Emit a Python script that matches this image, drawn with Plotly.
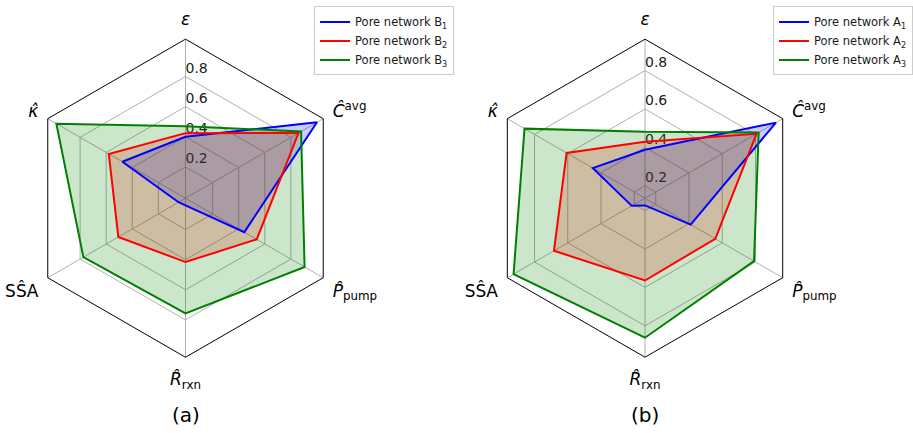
import plotly.graph_objects as go

# Axis categories (clockwise from the top)
axis_labels = [
    "<i>ε</i>",
    "<i>Ĉ</i><sup>avg</sup>",
    "<i>P̂</i><sub>pump</sub>",
    "<i>R̂</i><sub>rxn</sub>",
    "SŜA",
    "<i>κ̂</i>",
]
radial_ticks = [0.2, 0.4, 0.6, 0.8]
tick_text = ["0.2", "0.4", "0.6", "0.8"]

# Panel (a): pore networks B1-B3
names_a = ["Pore network B<sub>1</sub>", "Pore network B<sub>2</sub>", "Pore network B<sub>3</sub>"]
b1 = [0.400, 1.000, 0.443, 0.040, 0.045, 0.476]
b2 = [0.424, 0.858, 0.538, 0.416, 0.507, 0.580]
b3 = [0.470, 0.878, 0.905, 0.757, 0.775, 0.982]

# Panel (b): pore networks A1-A3
names_b = ["Pore network A<sub>1</sub>", "Pore network A<sub>2</sub>", "Pore network A<sub>3</sub>"]
a1 = [0.388, 0.923, 0.410, 0.173, 0.215, 0.449]
a2 = [0.430, 0.806, 0.558, 0.564, 0.683, 0.607]
a3 = [0.481, 0.819, 0.791, 0.862, 0.926, 0.860]

line_colors = ["#0000ff", "#ff0000", "#008000"]
fill_colors = ["rgba(0,0,255,0.2)", "rgba(255,0,0,0.2)", "rgba(0,128,0,0.2)"]

FONT = "DejaVu Sans"


def auto_range(series):
    # data limits plus a 5% margin on each side
    lo = min(min(s) for s in series)
    hi = max(max(s) for s in series)
    pad = 0.05 * (hi - lo)
    return [lo - pad, hi + pad]


fig = go.Figure()


def add_panel(series, names, subplot, legend):
    theta = axis_labels + axis_labels[:1]
    # radial tick labels along the top spoke
    fig.add_trace(go.Scatterpolar(
        r=radial_ticks, theta=[axis_labels[0]] * len(radial_ticks),
        mode="text", text=tick_text, textposition="top right",
        textfont=dict(family=FONT, size=14, color="#1a1a1a"),
        showlegend=False, hoverinfo="skip", subplot=subplot,
    ))
    # translucent areas first
    for vals, fc in zip(series, fill_colors):
        fig.add_trace(go.Scatterpolar(
            r=vals + vals[:1], theta=theta,
            mode="lines", fill="toself", fillcolor=fc,
            line=dict(width=0, color=fc),
            subplot=subplot, showlegend=False, hoverinfo="skip",
        ))
    # outlines on top, these carry the legend entries
    for vals, name, lc in zip(series, names, line_colors):
        fig.add_trace(go.Scatterpolar(
            r=vals + vals[:1], theta=theta,
            mode="lines", line=dict(color=lc, width=2),
            name=name, subplot=subplot, legend=legend,
        ))


add_panel([b1, b2, b3], names_a, "polar", "legend")
add_panel([a1, a2, a3], names_b, "polar2", "legend2")


def polar_layout(xdom, rng):
    return dict(
        domain=dict(x=xdom, y=[0.1746, 0.9099]),
        gridshape="linear",
        bgcolor="white",
        angularaxis=dict(
            type="category", direction="clockwise", rotation=90,
            showline=True, linecolor="black", linewidth=1,
            gridcolor="#b0b0b0", gridwidth=0.8,
            ticks="outside", ticklen=7, tickcolor="rgba(0,0,0,0)",
            tickfont=dict(family=FONT, size=17, color="black"),
        ),
        radialaxis=dict(
            range=rng, tickvals=radial_ticks, showticklabels=False,
            showline=False, ticks="", gridcolor="#b0b0b0", gridwidth=0.8,
        ),
    )


legend_style = dict(
    font=dict(family=FONT, size=11.5, color="#1a1a1a"),
    bordercolor="#cccccc", borderwidth=1, bgcolor="rgba(255,255,255,0.8)",
    xanchor="left", yanchor="top", y=0.985, tracegroupgap=0,
)

fig.update_layout(
    width=913, height=433,
    margin=dict(l=0, r=0, t=0, b=0),
    paper_bgcolor="white",
    font=dict(family=FONT),
    polar=polar_layout([0.0290, 0.3778], auto_range([b1, b2, b3])),
    polar2=polar_layout([0.5329, 0.8816], auto_range([a1, a2, a3])),
    legend=dict(x=0.344, **legend_style),
    legend2=dict(x=0.848, **legend_style),
    annotations=[
        dict(text="(a)", x=0.2034, y=0.042, xref="paper", yref="paper",
             xanchor="center", yanchor="middle", showarrow=False,
             font=dict(family=FONT, size=20, color="black")),
        dict(text="(b)", x=0.7073, y=0.042, xref="paper", yref="paper",
             xanchor="center", yanchor="middle", showarrow=False,
             font=dict(family=FONT, size=20, color="black")),
    ],
)

fig.write_html("out.html")
